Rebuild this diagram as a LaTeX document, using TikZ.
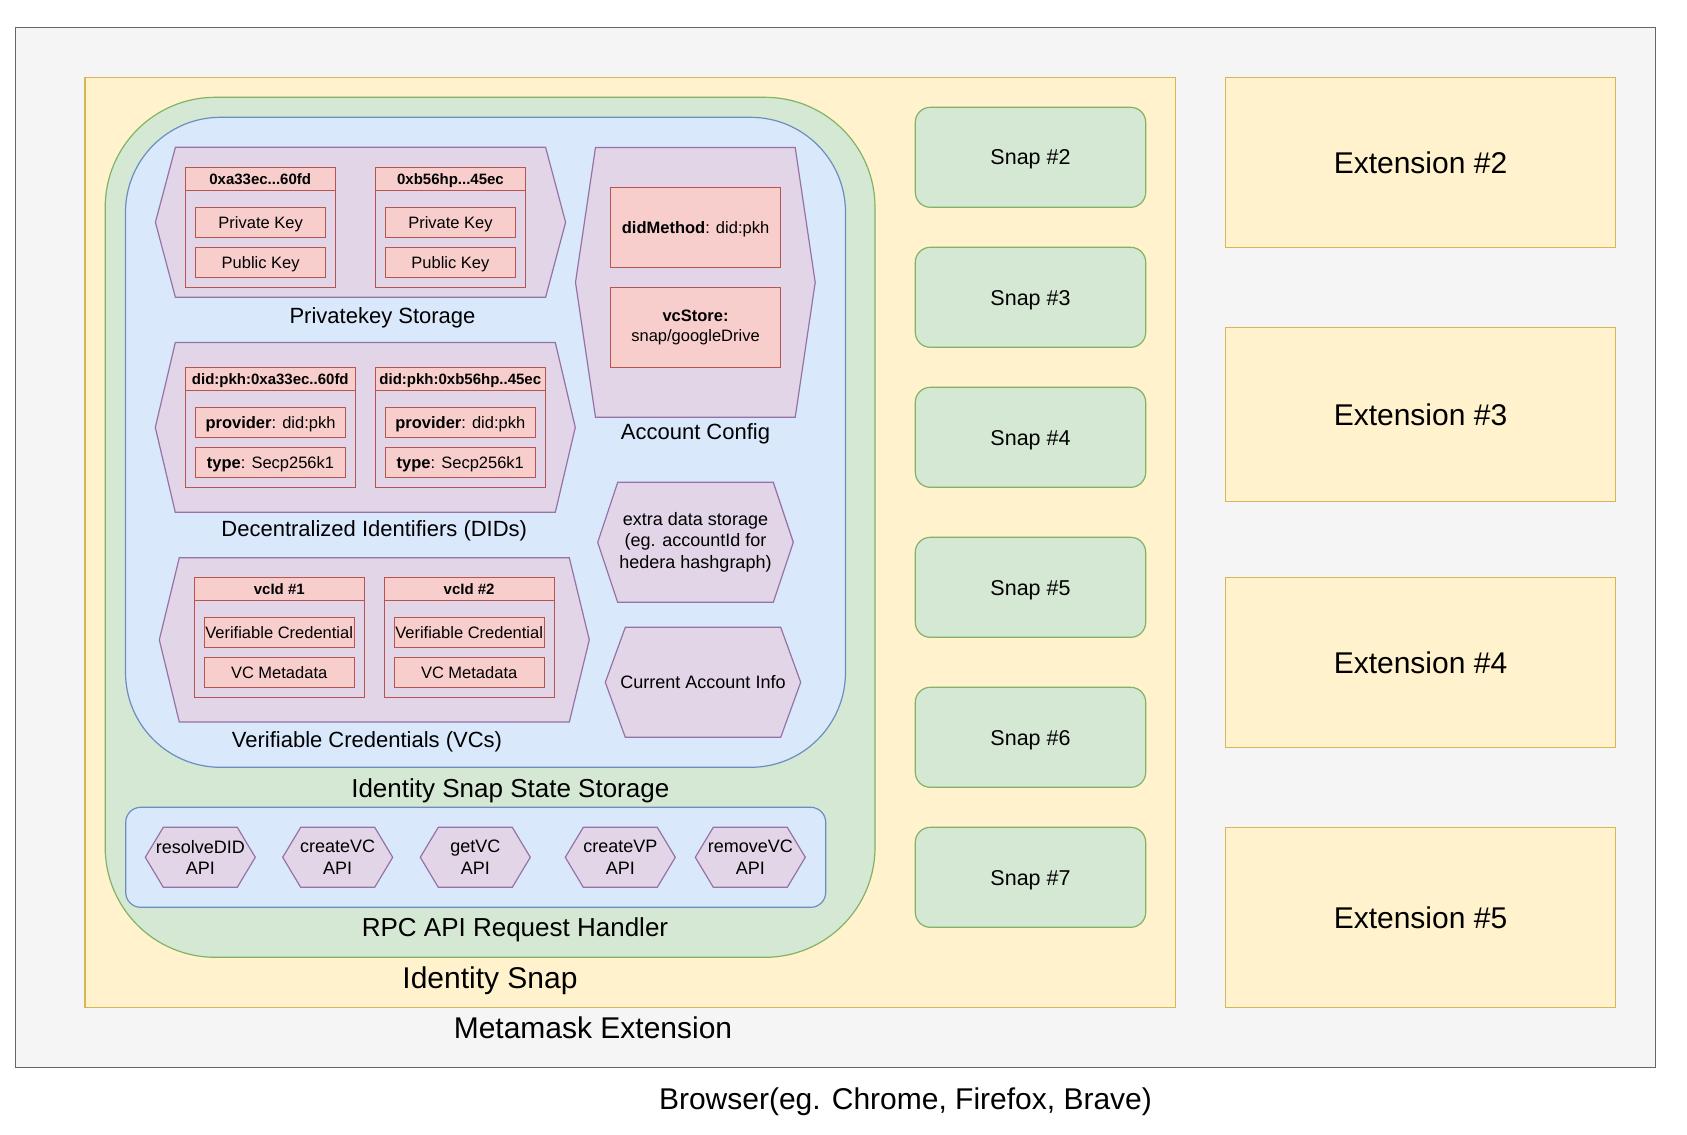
\documentclass[tikz,border=0pt]{standalone}
\usepackage{fontspec}
\setmainfont{Liberation Sans}
\definecolor{browsergray}{HTML}{F5F5F5}
\definecolor{browserline}{HTML}{666666}
\definecolor{extyellow}{HTML}{FFF2CC}
\definecolor{extline}{HTML}{D6B656}
\definecolor{snapgreen}{HTML}{D5E8D4}
\definecolor{snapline}{HTML}{82B366}
\definecolor{stateblue}{HTML}{DAE8FC}
\definecolor{stateline}{HTML}{6C8EBF}
\definecolor{storepurple}{HTML}{E1D5E7}
\definecolor{storeline}{HTML}{9673A6}
\definecolor{keypink}{HTML}{F8CECC}
\definecolor{keyline}{HTML}{B85450}
\usepackage{tikz}
\tikzset{
	box/.style = {draw, line width = 1.2pt, inner sep = 0pt},
	yellowbox/.style = {box, fill = extyellow, draw = extline},
	greenbox/.style = {box, fill = snapgreen, draw = snapline},
	bluebox/.style = {box, fill = stateblue, draw = stateline},
	pinkbox/.style = {box, fill = keypink, draw = keyline},
	lane/.style = {box, draw = keyline},
	hexa/.style = {line width = 1.2pt, fill = storepurple, draw = storeline},
	txt/.style = {font = \fontsize{#1}{#1}\selectfont, text height = {0.716*#1}, text depth = 0pt, inner sep = 0pt},
	lines/.style 2 args = {font = \fontsize{#1}{#2}\selectfont, align = center, inner sep = 0pt}
}
\newcommand{\hexpath}[5]{\draw[hexa] (#1, {(#2 + #4)/2}) -- (#1 + #5, #2) -- (#3 - #5, #2) -- (#3, {(#2 + #4)/2}) -- (#3 - #5, #4) -- (#1 + #5, #4) -- cycle;}

\begin{document}
\begin{tikzpicture}[x = 1pt, y = -1pt]
	\useasboundingbox (0, 0) rectangle (1687, 1135);
	\node[box, fill = browsergray, draw = browserline, minimum width = 1640.4pt, minimum height = 1040pt] (browser) at (835.5, 547.3) {};
	\node[yellowbox, minimum width = 1090.7pt, minimum height = 930pt] (metamask) at (630.35, 542.3) {};
	\node[greenbox, rounded corners = 110pt, minimum width = 769.8pt, minimum height = 860pt] (idsnap) at (490.1, 527.3) {};
	\node[bluebox, rounded corners = 95pt, minimum width = 720pt, minimum height = 650pt] (state) at (485.5, 442.3) {};
	\node[bluebox, rounded corners = 15pt, minimum width = 700pt, minimum height = 100pt] (rpc) at (475.7, 857.3) {};

	\hexpath{155.4}{147.3}{565.6}{297.3}{20}
	\hexpath{155.3}{342.5}{575.3}{512.3}{20}
	\hexpath{159.3}{557.7}{589.3}{722}{20}
	\hexpath{575.5}{147.5}{815.2}{417.3}{20}
	\hexpath{597.7}{482.3}{793.3}{602.3}{20}
	\hexpath{605.3}{627.3}{800.7}{737.3}{20}
	\hexpath{145.3}{827.3}{255.3}{887.3}{18}
	\hexpath{282.7}{827.3}{392.7}{887.3}{18}
	\hexpath{420.3}{827.3}{530.3}{887.3}{18}
	\hexpath{565.3}{827.3}{675.3}{887.3}{18}
	\hexpath{695.3}{827.3}{805.3}{887.3}{18}

	\node[lane, minimum width = 150pt, minimum height = 120pt] (keya) at (260.2, 227.3) {};
	\node[pinkbox, txt = 15, minimum width = 150pt, minimum height = 23pt] (keyahead) at (260.2, 178.8) {\textbf{0xa33ec...60fd}};
	\node[pinkbox, txt = 16.5, minimum width = 130pt, minimum height = 30pt] (privkeya) at (260.65, 222.3) {Private Key};
	\node[pinkbox, txt = 16.5, minimum width = 130pt, minimum height = 30pt] (pubkeya) at (260.65, 262.3) {Public Key};
	\node[lane, minimum width = 150pt, minimum height = 120pt] (keyb) at (450.45, 227.3) {};
	\node[pinkbox, txt = 15, minimum width = 150pt, minimum height = 23pt] (keybhead) at (450.45, 178.8) {\textbf{0xb56hp...45ec}};
	\node[pinkbox, txt = 16.5, minimum width = 130pt, minimum height = 30pt] (privkeyb) at (450.45, 222.3) {Private Key};
	\node[pinkbox, txt = 16.5, minimum width = 130pt, minimum height = 30pt] (pubkeyb) at (450.45, 262.3) {Public Key};
	\node[txt = 22] (pktitle) at (382.5, 316) {Privatekey Storage};

	\node[lane, minimum width = 170pt, minimum height = 120pt] (dida) at (270.3, 427.5) {};
	\node[pinkbox, txt = 15, minimum width = 170pt, minimum height = 23pt] (didahead) at (270.3, 379) {\textbf{did:pkh:0xa33ec..60fd}};
	\node[pinkbox, txt = 16.5, minimum width = 150pt, minimum height = 30pt] (provida) at (270.5, 422.5) {\textbf{provider}: did:pkh};
	\node[pinkbox, txt = 16.5, minimum width = 150pt, minimum height = 30pt] (typea) at (270.5, 462.2) {\textbf{type}: Secp256k1};
	\node[lane, minimum width = 170pt, minimum height = 120pt] (didb) at (460.3, 427.5) {};
	\node[pinkbox, txt = 15, minimum width = 170pt, minimum height = 23pt] (didbhead) at (460.3, 379) {\textbf{did:pkh:0xb56hp..45ec}};
	\node[pinkbox, txt = 16.5, minimum width = 150pt, minimum height = 30pt] (providb) at (460.3, 422.5) {\textbf{provider}: did:pkh};
	\node[pinkbox, txt = 16.5, minimum width = 150pt, minimum height = 30pt] (typeb) at (460.3, 462.2) {\textbf{type}: Secp256k1};
	\node[txt = 22] (didtitle) at (374.3, 528.7) {Decentralized Identifiers (DIDs)};

	\node[lane, minimum width = 170pt, minimum height = 120pt] (vca) at (279.3, 637.5) {};
	\node[pinkbox, txt = 15, minimum width = 170pt, minimum height = 23pt] (vcahead) at (279.3, 589) {\textbf{vcId \#1}};
	\node[pinkbox, txt = 16.5, minimum width = 150pt, minimum height = 30pt] (creda) at (279.15, 632.3) {Verifiable Credential};
	\node[pinkbox, txt = 16.5, minimum width = 150pt, minimum height = 30pt] (metaa) at (279.15, 672.3) {VC Metadata};
	\node[lane, minimum width = 170pt, minimum height = 120pt] (vcb) at (469.15, 637.5) {};
	\node[pinkbox, txt = 15, minimum width = 170pt, minimum height = 23pt] (vcbhead) at (469.15, 589) {\textbf{vcId \#2}};
	\node[pinkbox, txt = 16.5, minimum width = 150pt, minimum height = 30pt] (credb) at (469.15, 632.3) {Verifiable Credential};
	\node[pinkbox, txt = 16.5, minimum width = 150pt, minimum height = 30pt] (metab) at (469.15, 672.3) {VC Metadata};
	\node[txt = 22] (vctitle) at (367, 739.3) {Verifiable Credentials (VCs)};

	\node[pinkbox, txt = 16.5, minimum width = 170pt, minimum height = 80pt] (didmethod) at (695.55, 227.3) {\textbf{didMethod}: did:pkh};
	\node[pinkbox, lines = {16.5}{20.6}, minimum width = 170pt, minimum height = 80pt] (vcstore) at (695.55, 327.3) {\textbf{vcStore:}\\snap/googleDrive};
	\node[txt = 22] (actitle) at (695.5, 431.7) {Account Config};
	\node[lines = {18}{21.5}] (extra) at (695.5, 542.3) {extra data storage\\ (eg. accountId for\\hedera hashgraph)};
	\node[txt = 18] (current) at (703, 682.3) {Current Account Info};
	\node[txt = 26] (statetitle) at (510.3, 787.7) {Identity Snap State Storage};

	\node[lines = {18}{21.6}] (resolvedid) at (200.3, 857.3) {resolveDID\\API};
	\node[lines = {18}{21.6}] (createvc) at (337.7, 857.3) {createVC\\API};
	\node[lines = {18}{21.6}] (getvc) at (475.3, 857.3) {getVC\\API};
	\node[lines = {18}{21.6}] (createvp) at (620.3, 857.3) {createVP\\API};
	\node[lines = {18}{21.6}] (removevc) at (750.3, 857.3) {removeVC\\API};
	\node[txt = 26] (rpctitle) at (515, 927.6) {RPC API Request Handler};
	\node[txt = 30] (snaptitle) at (490, 977.7) {Identity Snap};
	\node[txt = 30] (mmtitle) at (593, 1027.8) {Metamask Extension};
	\node[txt = 30] (browsertitle) at (905.5, 1099) {Browser(eg. Chrome, Firefox, Brave)};

	\node[greenbox, rounded corners = 15pt, txt = 21.5, minimum width = 230.4pt, minimum height = 100pt] (snap2) at (1030.5, 157.3) {Snap \#2};
	\node[greenbox, rounded corners = 15pt, txt = 21.5, minimum width = 230.4pt, minimum height = 100pt] (snap3) at (1030.5, 297.3) {Snap \#3};
	\node[greenbox, rounded corners = 15pt, txt = 21.5, minimum width = 230.4pt, minimum height = 100pt] (snap4) at (1030.5, 437.3) {Snap \#4};
	\node[greenbox, rounded corners = 15pt, txt = 21.5, minimum width = 230.4pt, minimum height = 100pt] (snap5) at (1030.5, 587.3) {Snap \#5};
	\node[greenbox, rounded corners = 15pt, txt = 21.5, minimum width = 230.4pt, minimum height = 100pt] (snap6) at (1030.5, 737.3) {Snap \#6};
	\node[greenbox, rounded corners = 15pt, txt = 21.5, minimum width = 230.4pt, minimum height = 100pt] (snap7) at (1030.5, 877.3) {Snap \#7};

	\node[yellowbox, txt = 30, minimum width = 390.4pt, minimum height = 170pt] (ext2) at (1420.5, 162.3) {Extension \#2};
	\node[yellowbox, txt = 30, minimum width = 390.4pt, minimum height = 174pt] (ext3) at (1420.5, 414.5) {Extension \#3};
	\node[yellowbox, txt = 30, minimum width = 390.4pt, minimum height = 170pt] (ext4) at (1420.5, 662.3) {Extension \#4};
	\node[yellowbox, txt = 30, minimum width = 390.4pt, minimum height = 180pt] (ext5) at (1420.5, 917.3) {Extension \#5};
\end{tikzpicture}
\end{document}
